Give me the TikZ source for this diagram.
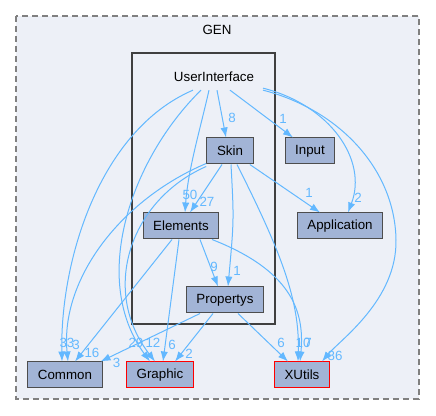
\documentclass[tikz,border=0pt]{standalone}
\usepackage{fontspec}
\setmainfont{Liberation Sans}
\usetikzlibrary{arrows.meta,calc,positioning}
\tikzset{>={Latex[length=7.5pt,width=5.5pt]}}
\definecolor{dirfill}{HTML}{A2B4D6}
\definecolor{dirline}{HTML}{4D4D4D}
\definecolor{clusterfill}{HTML}{EDF0F7}
\definecolor{depblue}{HTML}{63B8FF}
\definecolor{extred}{HTML}{FF0000}
\tikzset{
  dirbox/.style={draw=dirline, fill=dirfill, line width=0.75pt, minimum height=19.5pt,
    minimum width=35pt, inner xsep=7.5pt, font=\fontsize{10}{12}\selectfont},
  extbox/.style={dirbox, draw=extred},
  dep/.style={->, draw=depblue, line width=0.75pt},
  lbl/.style={text=depblue, inner sep=0pt, font=\fontsize{10}{12}\selectfont}
}

\begin{document}
\begin{tikzpicture}[x=0.75pt,y=-0.75pt]
      \useasboundingbox (0,0) rectangle (436,416);
      % clusters
      \draw[fill=clusterfill, draw=gray, line width=1.1pt, dash pattern=on 4.5pt off 3pt] (16,16) rectangle (419,399);
      \node[font=\fontsize{10}{12}\selectfont] (gen) at (217,30) {GEN};
      \draw[fill=clusterfill, draw=black!75, line width=1.5pt] (132,53) rectangle (275,324);
      \node[inner sep=0pt, font=\fontsize{10}{12}\selectfont] (ui) at (214,77) {UserInterface};
      %
      \node[dirbox] (skin) at (230,151) {Skin};
      \node[dirbox] (input) at (310,151) {Input};
      \node[dirbox] (elements) at (181,226) {Elements};
      \node[dirbox] (application) at (340,226) {Application};
      \node[dirbox] (propertys) at (225,300) {Propertys};
      \node[dirbox] (common) at (65,375) {Common};
      \node[extbox] (graphic) at (160,375) {Graphic};
      \node[extbox] (xutils) at (302,375) {XUtils};
      %
      % UserInterface
      \draw[dep] ($(ui.south)+(3,8)$) -- ($(skin.north)+(-4,0)$) node[lbl, at end, shift={(6,-20)}] {8};
      \draw[dep] ($(ui.south)+(16,8)$) -- ($(input.north)+(-17,0)$) node[lbl, at end, shift={(-10,-19)}] {1};
      \draw[dep] ($(ui.south)+(-5,8)$) .. controls (200,130) and (188,170) .. ($(elements.north)+(4,0)$) node[lbl, at end, shift={(5,-18)}] {50};
      \draw[dep] ($(ui.south)+(49,6)$) .. controls (330,105) and (368,160) .. ($(application.north)+(8,0)$) node[lbl, at end, shift={(10,-15)}] {2};
      \draw[dep] ($(ui.south)+(49,8)$) .. controls (340,110) and (395,170) .. (396,240) .. controls (397,300) and (340,340) .. ($(xutils.north)+(20,0)$) node[lbl, at end, shift={(13,-6)}] {86};
      \draw[dep] ($(ui.south)+(-21,8)$) .. controls (100,130) and (60,260) .. ($(common.north)+(-3,0)$) node[lbl, at end, shift={(5,-19)}] {33};
      \draw[dep] ($(ui.south)+(-13,8)$) .. controls (130,160) and (90,280) .. ($(graphic.north)+(-10,0)$) node[lbl, at end, shift={(-14,-19)}] {29};
      % Skin
      \draw[dep] ($(skin.south west)+(0,-1)$) .. controls (120,200) and (60,280) .. ($(common.north)+(3,0)$) node[lbl, at end, shift={(8,-17)}] {3};
      \draw[dep] ($(skin.south west)+(0,2)$) .. controls (130,200) and (100,290) .. ($(graphic.north)+(-5,0)$) node[lbl, at end, shift={(-2,-19)}] {12};
      \draw[dep] ($(skin.south)+(-8,0)$) -- ($(elements.north)+(9,0)$) node[lbl, at end, shift={(17,-11)}] {27};
      \draw[dep] ($(skin.south east)+(-4,0)$) -- ($(application.north)+(-20,0)$) node[lbl, at end, shift={(-11,-20)}] {1};
      \draw[dep] ($(skin.south)+(1,0)$) .. controls (234,220) .. ($(propertys.north)+(3,0)$) node[lbl, at end, shift={(9,-16)}] {1};
      \draw[dep] ($(skin.south)+(7,0)$) .. controls (280,250) and (300,300) .. ($(xutils.north)+(-4,0)$) node[lbl, at end, shift={(5,-19)}] {10};
      % Elements
      \draw[dep] ($(elements.south)+(19,0)$) -- ($(propertys.north)+(-7,0)$) node[lbl, at end, shift={(-4,-20)}] {9};
      \draw[dep] ($(elements.south)+(-9,0)$) -- ($(common.north)+(10,0)$) node[lbl, at end, shift={(17,-9)}] {16};
      \draw[dep] ($(elements.south)+(-2,0)$) -- ($(graphic.north)+(3,0)$) node[lbl, at end, shift={(9,-17)}] {6};
      \draw[dep] ($(elements.south)+(31,0)$) .. controls (290,270) and (305,310) .. ($(xutils.north)+(-2,0)$) node[lbl, at end, shift={(8,-19)}] {7};
      % Propertys
      \draw[dep] ($(propertys.south)+(-25,0)$) -- ($(common.north east)+(-2,0)$) node[lbl, at end, shift={(16,1)}] {3};
      \draw[dep] ($(propertys.south)+(-12,0)$) -- ($(graphic.north)+(15,0)$) node[lbl, at end, shift={(14,-8)}] {2};
      \draw[dep] ($(propertys.south)+(13,0)$) -- ($(xutils.north)+(-14,0)$) node[lbl, at end, shift={(-7,-19)}] {6};
    \end{tikzpicture}
\end{document}
